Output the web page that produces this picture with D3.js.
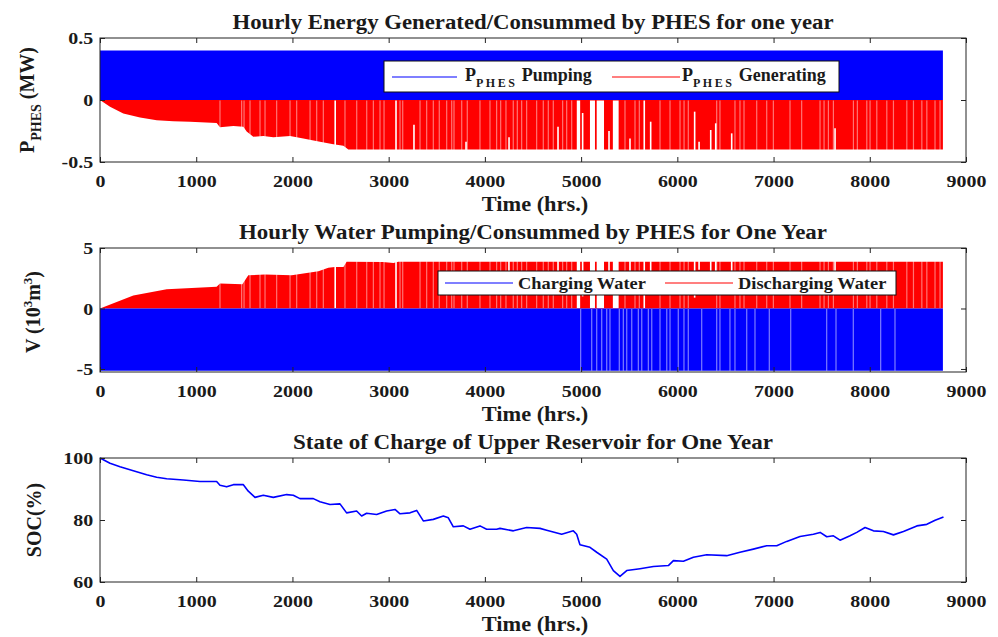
<!DOCTYPE html>
<html>
<head>
<meta charset="utf-8">
<script src="https://cdn.jsdelivr.net/npm/d3@7/dist/d3.min.js"></script>
<style>
  body { margin: 0; background: #fff; }
  svg text { font-family: "Liberation Serif", "Times New Roman", "DejaVu Serif", serif; font-weight: bold; }
</style>
</head>
<body>
<div id="chart"></div>
<script>
// Data
const xTicks = [0, 1000, 2000, 3000, 4000, 5000, 6000, 7000, 8000, 9000];
const energyTicks = [-0.5, 0, 0.5];
const waterTicks = [-5, 0, 5];
const socTicks = [60, 80, 100];

// panel 1: pumping (+) and generating (-) power, MW
const pumpEnergy = [[0, 0.4], [8760, 0.4]];
const genEnergyEnvelope = [
  [0, 0], [104, -0.054], [242, -0.108], [416, -0.142], [589, -0.164], [762, -0.172],
  [935, -0.175], [1212, -0.185], [1247, -0.22], [1386, -0.21], [1490, -0.215],
  [1524, -0.255], [1593, -0.296], [1697, -0.29], [1801, -0.30], [1975, -0.29],
  [2113, -0.31], [2286, -0.336], [2425, -0.357], [2529, -0.368], [2581, -0.40], [8760, -0.40]
];
// hours with no generation (full white gaps)
const genGapHours = [[2436, 2450], [3068, 3084], [4955, 4990], [5092, 5144], [5162, 5238], [5330, 5390], [5648, 5660]];
// hours where generation stayed below the envelope: [hour, MW]
const genEnergyNotches = [
  [3263, -0.2], [3804, -0.336], [4251, -0.30], [4760, -0.215], [5016, -0.105], [5290, -0.25],
  [5508, -0.31], [5723, -0.175], [6180, -0.094], [6226, -0.336], [6347, -0.242], [6399, -0.188],
  [6565, -0.269], [7639, -0.228]
];
// faint lines (partial hours)
const genLightHours = [
  1247, 1472, 1497, 1559, 1663, 1715, 1836, 1975, 2044, 2183, 2252, 2321, 2546, 2668, 2772, 2841, 2910,
  2952, 3118, 3146, 3326, 3395, 3464, 3526, 3603, 3655, 3679, 3759, 3817, 3949, 4053, 4122, 4164, 4219,
  4295, 4337, 4382, 4434, 4538, 4607, 4659, 4711, 4808, 4850, 4902,
  5456, 5560, 5605, 5820, 5924, 6028, 6070, 6114, 6409, 6443, 6599, 6651, 6693, 6825, 6929, 6998, 7171,
  7292, 7483, 7525, 7570, 7622, 7830, 7871, 7969, 8003, 8073, 8177, 8246, 8385, 8454, 8541, 8593, 8678, 8730
];

// panel 2: water volume, 10^3 m^3
const dischargeWaterEnvelope = [
  [0, 0], [346, 1.08], [693, 1.58], [1212, 1.8], [1247, 2.06], [1480, 2.0], [1541, 2.75],
  [1714, 2.8], [1992, 2.75], [2270, 3.08], [2373, 3.36], [2440, 3.43], [2530, 3.43],
  [2563, 3.86], [2940, 3.85], [3050, 3.75], [3100, 3.86], [8760, 3.86]
];
const waterNotches = [
  [4250, 2.9], [4760, 2.0], [5016, 1.0], [5290, 2.4], [5508, 2.9], [5723, 1.7], [6180, 0.9],
  [6226, 3.2], [6347, 2.3], [6399, 1.8], [6565, 2.6], [7639, 2.2]
];
const chargeWater = [[0, -5.15], [8760, -5.15]];
const chargeGapHours = [
  4995, 5110, 5162, 5214, 5266, 5300, 5397, 5439, 5474, 5526, 5595, 5630, 5699, 5734, 5820, 5890,
  5924, 6010, 6069, 6114, 6253, 6409, 6443, 6547, 6599, 6721, 6807, 6956, 7178, 7552, 7649, 7829, 8113, 8262
];

// panel 3: SOC %
const socData = [
  [0, 100], [104, 98.3], [208, 97.2], [346, 95.9], [485, 94.6], [589, 93.8], [693, 93.3], [866, 92.9],
  [1039, 92.4], [1212, 92.4], [1247, 91.2], [1316, 90.7], [1386, 91.4], [1490, 91.4], [1541, 89.3],
  [1611, 87.3], [1697, 88.0], [1801, 87.3], [1940, 88.2], [2009, 88.0], [2078, 86.9], [2217, 86.9],
  [2286, 85.9], [2390, 85.0], [2494, 85.2], [2563, 82.3], [2667, 82.9], [2719, 81.3], [2771, 82.2],
  [2875, 81.8], [2979, 82.9], [3066, 83.4], [3118, 82.0], [3222, 82.3], [3291, 83.1], [3360, 79.7],
  [3464, 80.2], [3568, 81.3], [3620, 80.7], [3672, 77.8], [3776, 78.1], [3845, 77.0], [3949, 78.1],
  [4018, 77.0], [4122, 77.0], [4157, 77.3], [4296, 76.5], [4434, 77.6], [4573, 77.3], [4642, 76.7],
  [4798, 75.4], [4919, 76.5], [4954, 75.4], [4988, 72.0], [5092, 71.2], [5162, 69.6], [5266, 67.4],
  [5335, 63.7], [5404, 61.8], [5474, 63.7], [5612, 64.3], [5751, 65.0], [5907, 65.3], [5959, 66.9],
  [6063, 66.7], [6167, 68.0], [6305, 68.8], [6513, 68.5], [6651, 69.6], [6790, 70.6], [6929, 71.7],
  [7033, 71.7], [7137, 73.1], [7275, 74.7], [7414, 75.4], [7484, 76.0], [7553, 74.6], [7622, 74.9],
  [7691, 73.5], [7795, 74.9], [7865, 76.0], [7951, 77.6], [8038, 76.5], [8142, 76.3], [8246, 75.2],
  [8350, 76.3], [8489, 78.1], [8593, 78.6], [8679, 79.9], [8766, 81.0]
];

const BLUE = "#0000ff", RED = "#ff0000";
const FONT = "'Liberation Serif', 'Times New Roman', 'DejaVu Serif', serif";
const W = 998, H = 637;
const svg = d3.select("#chart").append("svg").attr("width", W).attr("height", H);
svg.append("rect").attr("width", W).attr("height", H).attr("fill", "#fff");

const x = d3.scaleLinear().domain([0, 9000]).range([100, 966]);

const panels = [
  { top: 38, bottom: 162, domain: [-0.5, 0.5], ticks: energyTicks,
    title: "Hourly Energy Generated/Consummed by PHES for one year", titleLen: 601 },
  { top: 248, bottom: 372, domain: [-5.25, 5], ticks: waterTicks,
    title: "Hourly Water Pumping/Consummed by PHES for One Year", titleLen: 588 },
  { top: 458, bottom: 582, domain: [60, 100], ticks: socTicks,
    title: "State of Charge of Upper Reservoir for One Year", titleLen: 480 }
];
panels.forEach(p => { p.y = d3.scaleLinear().domain(p.domain).range([p.bottom, p.top]); });

function stretchText(g, px, py, str, size, sx, anchor) {
  return g.append("text")
    .attr("transform", `translate(${px},${py}) scale(${sx},1)`)
    .attr("text-anchor", anchor || "middle")
    .style("font-size", size + "px")
    .attr("fill", "#1a1a1a")
    .text(str);
}

function vLines(g, hours, y0, y1, color, width, opacity) {
  g.selectAll(null).data(hours).enter().append("line")
    .attr("x1", d => x(d)).attr("x2", d => x(d))
    .attr("y1", y0).attr("y2", y1)
    .attr("stroke", color).attr("stroke-width", width).attr("stroke-opacity", opacity);
}

// Panel 1
(function(){
  const p = panels[0], y = p.y, g = svg.append("g");
  const area = d3.area().x(d => x(d[0])).y0(y(0)).y1(d => y(d[1]));
  g.append("path").datum(pumpEnergy).attr("fill", BLUE).attr("d", area);
  g.append("path").datum(genEnergyEnvelope).attr("fill", RED).attr("d", area);
  vLines(g, genLightHours, y(0) + 0.5, y(-0.45), "#fff", 1.2, 0.45);
  g.selectAll(null).data(genEnergyNotches).enter().append("line")
    .attr("x1", d => x(d[0])).attr("x2", d => x(d[0]))
    .attr("y1", d => y(d[1])).attr("y2", y(-0.45))
    .attr("stroke", "#fff").attr("stroke-width", 1.6);
  g.selectAll(null).data(genGapHours).enter().append("rect")
    .attr("x", d => x(d[0])).attr("width", d => Math.max(1.6, x(d[1]) - x(d[0])))
    .attr("y", y(0) + 0.5).attr("height", y(-0.45) - y(0))
    .attr("fill", "#fff");

  // legend
  const lg = svg.append("g").attr("transform", "translate(384,61)");
  lg.append("rect").attr("width", 455).attr("height", 31).attr("fill", "#fff")
    .attr("stroke", "#111").attr("stroke-width", 1);
  lg.append("line").attr("x1", 8).attr("x2", 73).attr("y1", 16).attr("y2", 16).attr("stroke", BLUE).attr("stroke-width", 1.2);
  lg.append("line").attr("x1", 228).attr("x2", 296).attr("y1", 16).attr("y2", 16).attr("stroke", RED).attr("stroke-width", 1.2);
  [[81, "Pumping"], [298, "Generating"]].forEach(([lx, word]) => {
    const t = lg.append("text").attr("x", lx).attr("y", 20).style("font-size", "18px").attr("fill", "#1a1a1a");
    t.append("tspan").text("P");
    t.append("tspan").attr("dy", 6).style("font-size", "12px").attr("letter-spacing", "2.5px").text("PHES");
    t.append("tspan").attr("dy", -6).text(" " + word);
  });
})();

// Panel 2
(function(){
  const p = panels[1], y = p.y, g = svg.append("g");
  const area = d3.area().x(d => x(d[0])).y0(y(0)).y1(d => y(d[1]));
  g.append("path").datum(dischargeWaterEnvelope).attr("fill", RED).attr("d", area);
  g.append("path").datum(chargeWater).attr("fill", BLUE).attr("d", area);
  vLines(g, genLightHours, y(0) - 0.5, y(4.2), "#fff", 1.2, 0.45);
  g.selectAll(null).data(waterNotches).enter().append("line")
    .attr("x1", d => x(d[0])).attr("x2", d => x(d[0]))
    .attr("y1", d => y(d[1])).attr("y2", y(4.2))
    .attr("stroke", "#fff").attr("stroke-width", 1.6);
  g.selectAll(null).data(genGapHours).enter().append("rect")
    .attr("x", d => x(d[0])).attr("width", d => Math.max(1.6, x(d[1]) - x(d[0])))
    .attr("y", y(4.2)).attr("height", y(0) - 0.5 - y(4.2))
    .attr("fill", "#fff");
  vLines(g, chargeGapHours, y(0) + 0.5, y(-5.15), "#fff", 1.3, 0.45);

  const lg = svg.append("g").attr("transform", "translate(438,271)");
  lg.append("rect").attr("width", 458).attr("height", 24).attr("fill", "#fff")
    .attr("stroke", "#111").attr("stroke-width", 1);
  lg.append("line").attr("x1", 7).attr("x2", 75).attr("y1", 12).attr("y2", 12).attr("stroke", BLUE).attr("stroke-width", 1.2);
  lg.append("line").attr("x1", 227).attr("x2", 295).attr("y1", 12).attr("y2", 12).attr("stroke", RED).attr("stroke-width", 1.2);
  stretchText(lg, 80, 18, "Charging Water", 16, 1.15, "start");
  stretchText(lg, 300, 18, "Discharging Water", 16, 1.15, "start");
})();

// Panel 3
(function(){
  const p = panels[2], y = p.y;
  svg.append("path").datum(socData)
    .attr("fill", "none").attr("stroke", BLUE).attr("stroke-width", 1.6).attr("stroke-linejoin", "round")
    .attr("d", d3.line().x(d => x(d[0])).y(d => y(d[1])));
})();

// Axes, frames, titles
panels.forEach((p, i) => {
  const g = svg.append("g");
  g.append("rect").attr("x", 100).attr("y", p.top).attr("width", 866).attr("height", p.bottom - p.top)
    .attr("fill", "none").attr("stroke", "#222").attr("stroke-width", 1);

  const fmt = d => String(d);
  const bx = g.append("g").attr("transform", `translate(0,${p.bottom})`)
    .call(d3.axisBottom(x).tickValues(xTicks).tickFormat(fmt).tickSizeInner(-5).tickSizeOuter(0).tickPadding(12.5));
  const tx = g.append("g").attr("transform", `translate(0,${p.top})`)
    .call(d3.axisTop(x).tickValues(xTicks).tickSizeInner(-5).tickSizeOuter(0).tickFormat(""));
  const ly = g.append("g").attr("transform", "translate(100,0)")
    .call(d3.axisLeft(p.y).tickValues(p.ticks).tickFormat(fmt).tickSizeInner(-5).tickSizeOuter(0).tickPadding(6));
  const ry = g.append("g").attr("transform", "translate(966,0)")
    .call(d3.axisRight(p.y).tickValues(p.ticks).tickSizeInner(-5).tickSizeOuter(0).tickFormat(""));
  [bx, tx, ly, ry].forEach(a => {
    a.attr("font-family", null).attr("font-size", null);
    a.select(".domain").remove();
    a.selectAll(".tick line").attr("stroke", "#222");
    a.selectAll("text")
      .style("font-family", FONT).style("font-weight", "bold")
      .style("font-size", "17.5px").attr("fill", "#1a1a1a")
      .attr("transform", "scale(1.14,1)");
  });

  svg.append("text").attr("x", 533).attr("y", p.top - 9)
    .attr("text-anchor", "middle").attr("textLength", p.titleLen).attr("lengthAdjust", "spacingAndGlyphs")
    .style("font-size", "20px").attr("fill", "#1a1a1a").text(p.title);

  stretchText(svg, 535, p.bottom + 49, "Time (hrs.)", 20, 1.12);
});

// Y axis titles
(function(){
  const t1 = svg.append("text").attr("transform", "translate(34,100) rotate(-90)")
    .attr("text-anchor", "middle").style("font-size", "20px").attr("fill", "#1a1a1a");
  t1.append("tspan").text("P");
  t1.append("tspan").attr("dy", 7).style("font-size", "14px").text("PHES");
  t1.append("tspan").attr("dy", -7).text(" (MW)");

  const t2 = svg.append("text").attr("transform", "translate(40,312) rotate(-90)")
    .attr("text-anchor", "middle").style("font-size", "20px").attr("fill", "#1a1a1a");
  t2.append("tspan").text("V (10");
  t2.append("tspan").attr("dy", -8).style("font-size", "13px").text("3");
  t2.append("tspan").attr("dy", 8).text("m");
  t2.append("tspan").attr("dy", -8).style("font-size", "13px").text("3");
  t2.append("tspan").attr("dy", 8).text(")");

  svg.append("text").attr("transform", "translate(41,520) rotate(-90)")
    .attr("text-anchor", "middle").style("font-size", "20px").attr("fill", "#1a1a1a").text("SOC(%)");
})();
</script>
</body>
</html>
